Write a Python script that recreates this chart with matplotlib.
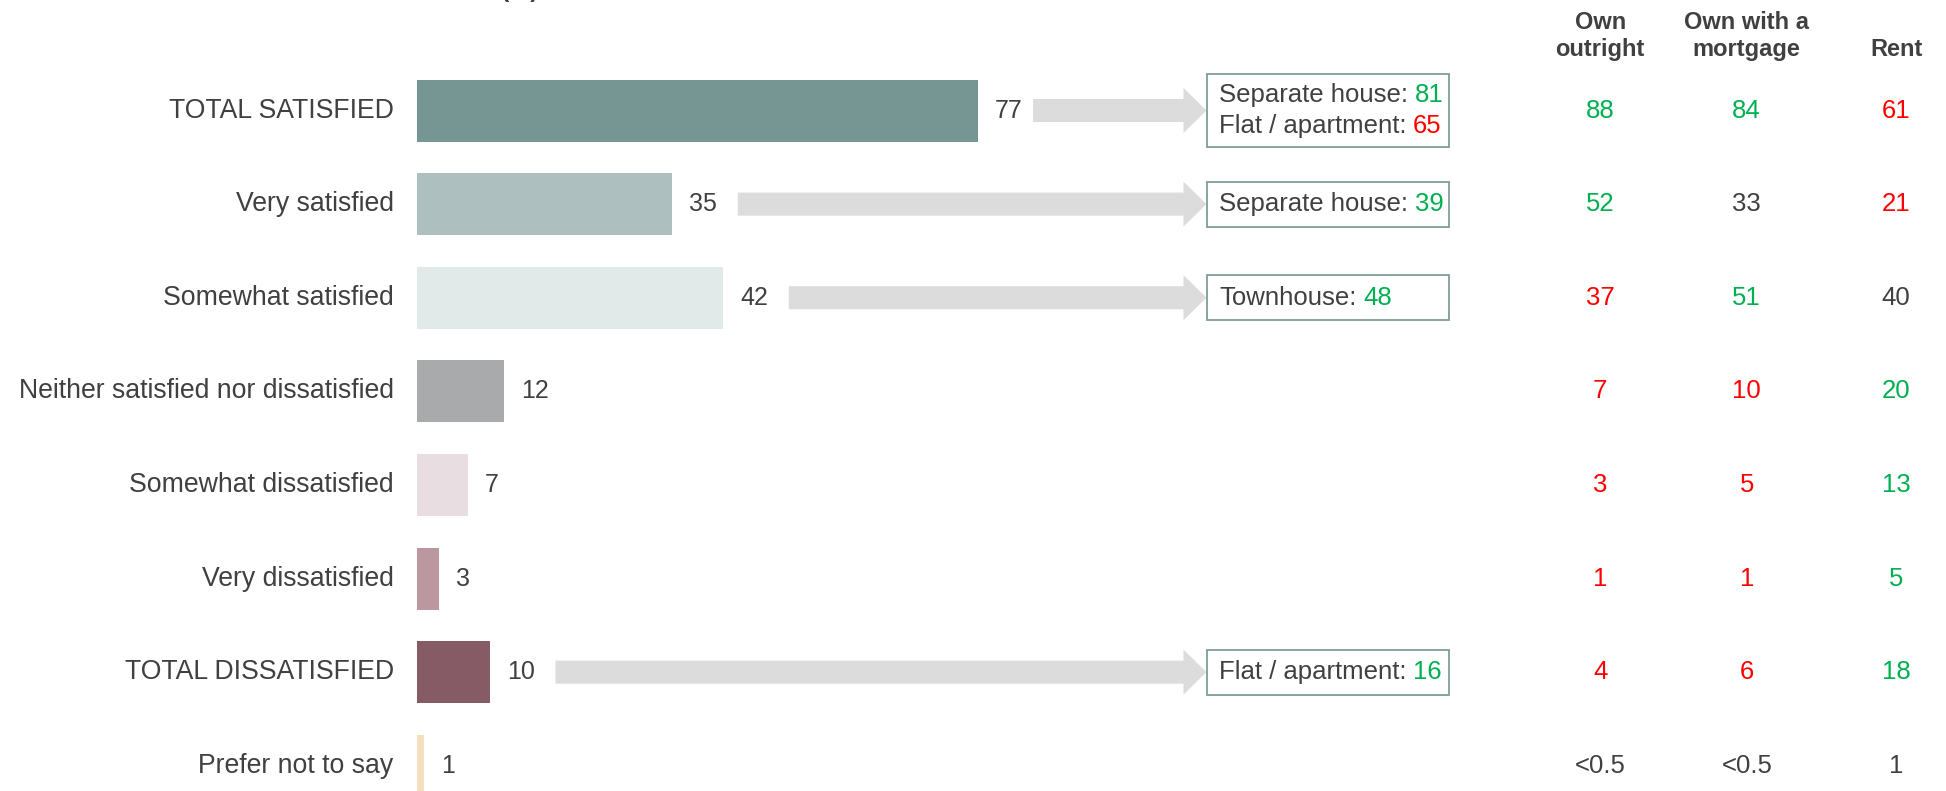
import matplotlib
matplotlib.use("Agg")
import matplotlib.pyplot as plt
from matplotlib.patches import FancyArrow, Rectangle

plt.rcParams['font.family'] = ['Liberation Sans', 'DejaVu Sans']

# ---- data ----
categories = [
    "TOTAL SATISFIED",
    "Very satisfied",
    "Somewhat satisfied",
    "Neither satisfied nor dissatisfied",
    "Somewhat dissatisfied",
    "Very dissatisfied",
    "TOTAL DISSATISFIED",
    "Prefer not to say",
]
values = [77, 35, 42, 12, 7, 3, 10, 1]
bar_colors = ["#769694", "#adbfbf", "#e2e9e9", "#a9aaab",
              "#e8dde1", "#bb97a0", "#875b66", "#f5dfc0"]

# callouts: row index -> list of (dwelling type, value, colour key)
callouts = {
    0: [("Separate house:", 81, "g"), ("Flat / apartment:", 65, "r")],
    1: [("Separate house:", 39, "g")],
    2: [("Townhouse:", 48, "g")],
    6: [("Flat / apartment:", 16, "g")],
}

tenure_headers = ["Own\noutright", "Own with a\nmortgage", "Rent"]
own_outright = ["88", "52", "37", "7", "3", "1", "4", "<0.5"]
own_mortgage = ["84", "33", "51", "10", "5", "1", "6", "<0.5"]
rent = ["61", "21", "40", "20", "13", "5", "18", "1"]
own_outright_sig = ["g", "g", "r", "r", "r", "r", "r", "n"]
own_mortgage_sig = ["g", "n", "g", "r", "r", "r", "r", "n"]
rent_sig = ["r", "r", "n", "g", "g", "g", "g", "n"]

TXT = "#404040"
SIG = {"g": "#00b050", "r": "#ff0000", "n": TXT}

# ---- layout ----
W, H, DPI = 1946, 791, 100
fig = plt.figure(figsize=(W / DPI, H / DPI), dpi=DPI)
ax = fig.add_axes([0, 0, 1, 1])
ax.set_axis_off()

x0_px, px_per_unit = 417, 7.29
row0_px, row_px = 110.5, 93.6
ax.set_xlim(-x0_px / px_per_unit, (W - x0_px) / px_per_unit)
ax.set_ylim((H - row0_px) / row_px, -row0_px / row_px)

rows = list(range(len(categories)))
ax.barh(rows, values, height=62 / row_px, color=bar_colors, left=0)

for i, (cat, v) in enumerate(zip(categories, values)):
    ax.text(-3.2, i, cat, ha="right", va="center", fontsize=19.2, color=TXT)
    ax.text(v + 2.3, i, str(v), ha="left", va="center", fontsize=18, color=TXT)

# arrows and callout boxes
box_x0, box_x1 = 108.3, 141.5
for i, lines in callouts.items():
    start = values[i] + (7.5 if i == 0 else 9.0)
    ax.add_patch(FancyArrow(start, i, box_x0 - start, 0,
                            width=23 / row_px, head_width=45 / row_px,
                            head_length=23 / px_per_unit,
                            length_includes_head=True,
                            color="#dcdcdc", lw=0))
    h = (73 if len(lines) == 2 else 45) / row_px
    ax.add_patch(Rectangle((box_x0, i - h / 2), box_x1 - box_x0, h,
                           fill=False, ec="#7f9c9a", lw=1.3))
    n = len(lines)
    for k, (label, num, key) in enumerate(lines):
        y = i + (k - (n - 1) / 2) * (30.5 / row_px)
        t = ax.text(110.0, y, label, ha="left", va="center",
                    fontsize=18.5, color=TXT)
        ax.annotate(str(num), xy=(1, 0.5), xycoords=t,
                    xytext=(4.8, 0), textcoords="offset points",
                    ha="left", va="center", fontsize=18.5, color=SIG[key])

# tenure comparison table
col_x = [162.3, 182.4, 202.9]
columns = [(own_outright, own_outright_sig),
           (own_mortgage, own_mortgage_sig),
           (rent, rent_sig)]
for cx, head in zip(col_x, tenure_headers):
    ax.text(cx, (61 - row0_px) / row_px, head, ha="center", va="bottom",
            fontsize=17, fontweight="bold", color=TXT, linespacing=1.2)
for cx, (vals, sig) in zip(col_x, columns):
    for i, (v, s) in enumerate(zip(vals, sig)):
        ax.text(cx, i, v, ha="center", va="center", fontsize=18.5, color=SIG[s])

# chart title, sitting just above the top edge
ax.text(16.6, (-3.5 - row0_px) / row_px, "Overall satisfaction with home (%)",
        ha="right", va="baseline", fontsize=17, fontweight="bold", color=TXT)

fig.savefig("out.png", dpi=DPI)
